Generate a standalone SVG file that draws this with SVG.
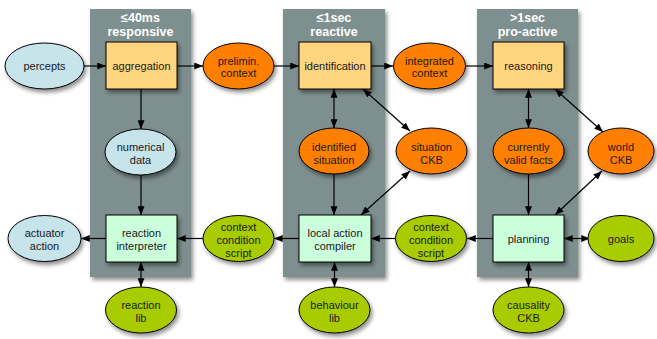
<svg xmlns="http://www.w3.org/2000/svg" width="657" height="339" viewBox="0 0 657 339">
  <defs>
    <filter id="shadow" x="-20%" y="-20%" width="150%" height="150%">
      <feGaussianBlur in="SourceAlpha" stdDeviation="2"/>
      <feOffset dx="1.5" dy="2.5" result="b"/>
      <feComponentTransfer><feFuncA type="linear" slope="0.45"/></feComponentTransfer>
      <feMerge><feMergeNode/><feMergeNode in="SourceGraphic"/></feMerge>
    </filter>
    <marker id="arr" viewBox="0 0 10 8" refX="10" refY="4" markerWidth="9" markerHeight="7" markerUnits="userSpaceOnUse" orient="auto-start-reverse">
      <path d="M0,0 L10,4 L0,8 Z" fill="#000"/>
    </marker>
  </defs>
  <style>
    .panel { fill: #7e8f8f; }
    .head { font-family: "Liberation Sans", Arial, sans-serif; font-size: 12.5px; font-weight: bold; fill: #fff; text-anchor: middle; }
    .lbl { font-family: "Liberation Sans", Arial, sans-serif; font-size: 11px; fill: #1a1a1a; text-anchor: middle; }
    .ell, .box { stroke: #000; stroke-width: 1; }
    .blue { fill: #c6e4ea; }
    .orange { fill: #ff8000; }
    .green { fill: #a8cc00; }
    .yellow { fill: #ffd580; }
    .mint { fill: #cbfedb; }
    .conn line { stroke: #000; stroke-width: 1.2; fill: none; }
    .one { marker-end: url(#arr); }
    .two { marker-start: url(#arr); marker-end: url(#arr); }
  </style>

  <!-- time-scale columns -->
  <g id="col-responsive">
    <rect class="panel" x="90" y="9" width="101" height="268" filter="url(#shadow)"/>
    <text class="head" x="140.5" y="22">≤40ms</text>
    <text class="head" x="140.5" y="36">responsive</text>
  </g>
  <g id="col-reactive">
    <rect class="panel" x="283" y="9" width="102" height="268" filter="url(#shadow)"/>
    <text class="head" x="334" y="22">≤1sec</text>
    <text class="head" x="334" y="36">reactive</text>
  </g>
  <g id="col-proactive">
    <rect class="panel" x="477" y="9" width="101" height="268" filter="url(#shadow)"/>
    <text class="head" x="527.5" y="22">&gt;1sec</text>
    <text class="head" x="527.5" y="36">pro-active</text>
  </g>

  <!-- connectors -->
  <g class="conn" id="connectors">
    <line class="one" x1="84" y1="66" x2="106" y2="66"/>
    <line class="one" x1="177" y1="66" x2="203" y2="66"/>
    <line class="one" x1="274" y1="66" x2="299" y2="66"/>
    <line class="one" x1="371" y1="66" x2="393" y2="66"/>
    <line class="one" x1="466" y1="66" x2="493" y2="66"/>
    <line class="one" x1="141" y1="89" x2="141" y2="129"/>
    <line class="one" x1="141" y1="175" x2="141" y2="215"/>
    <line class="two" x1="334" y1="89" x2="334" y2="128"/>
    <line class="two" x1="363" y1="89" x2="410" y2="131"/>
    <line class="one" x1="334" y1="174" x2="334" y2="215"/>
    <line class="two" x1="361" y1="215" x2="410" y2="171"/>
    <line class="two" x1="528.5" y1="89" x2="528.5" y2="128"/>
    <line class="two" x1="555" y1="89" x2="603" y2="132"/>
    <line class="one" x1="528.5" y1="174" x2="528.5" y2="215"/>
    <line class="two" x1="555" y1="215" x2="602" y2="171"/>
    <line class="two" x1="564" y1="238.5" x2="590" y2="238.5"/>
    <line class="one" x1="493" y1="238.5" x2="467" y2="238.5"/>
    <line class="one" x1="395" y1="238.5" x2="371" y2="238.5"/>
    <line class="one" x1="299" y1="238.5" x2="274" y2="238.5"/>
    <line class="one" x1="203" y1="238.5" x2="177" y2="238.5"/>
    <line class="one" x1="106" y1="238.5" x2="81" y2="238.5"/>
    <line class="two" x1="141" y1="262" x2="141" y2="287"/>
    <line class="two" x1="334.5" y1="262" x2="334.5" y2="287"/>
    <line class="two" x1="528.5" y1="262" x2="528.5" y2="287"/>
  </g>

  <!-- top row -->
  <g id="percepts">
    <ellipse class="ell blue" cx="44.5" cy="66" rx="39.5" ry="23" filter="url(#shadow)"/>
    <text class="lbl" x="44.5" y="70">percepts</text>
  </g>
  <g id="aggregation">
    <rect class="box yellow" x="106" y="42" width="71" height="47" filter="url(#shadow)"/>
    <text class="lbl" x="141.5" y="70">aggregation</text>
  </g>
  <g id="prelimin-context">
    <ellipse class="ell orange" cx="238.5" cy="66" rx="35.5" ry="23" filter="url(#shadow)"/>
    <text class="lbl" x="238.5" y="64.5">prelimin.</text>
    <text class="lbl" x="238.5" y="77">context</text>
  </g>
  <g id="identification">
    <rect class="box yellow" x="299" y="42" width="72" height="47" filter="url(#shadow)"/>
    <text class="lbl" x="335" y="70">identification</text>
  </g>
  <g id="integrated-context">
    <ellipse class="ell orange" cx="429.5" cy="66" rx="36" ry="23" filter="url(#shadow)"/>
    <text class="lbl" x="429.5" y="64.5">integrated</text>
    <text class="lbl" x="429.5" y="77">context</text>
  </g>
  <g id="reasoning">
    <rect class="box yellow" x="493" y="42" width="71" height="47" filter="url(#shadow)"/>
    <text class="lbl" x="528.5" y="70">reasoning</text>
  </g>

  <!-- middle row -->
  <g id="numerical-data">
    <ellipse class="ell blue" cx="140.5" cy="152" rx="35.5" ry="23" filter="url(#shadow)"/>
    <text class="lbl" x="140.5" y="150.5">numerical</text>
    <text class="lbl" x="140.5" y="164">data</text>
  </g>
  <g id="identified-situation">
    <ellipse class="ell orange" cx="334" cy="151" rx="35" ry="23" filter="url(#shadow)"/>
    <text class="lbl" x="334" y="150.5">identified</text>
    <text class="lbl" x="334" y="164">situation</text>
  </g>
  <g id="situation-ckb">
    <ellipse class="ell orange" cx="431.5" cy="151" rx="35.5" ry="23" filter="url(#shadow)"/>
    <text class="lbl" x="431.5" y="150.5">situation</text>
    <text class="lbl" x="431.5" y="164">CKB</text>
  </g>
  <g id="currently-valid-facts">
    <ellipse class="ell orange" cx="528.5" cy="151" rx="35.5" ry="23" filter="url(#shadow)"/>
    <text class="lbl" x="528.5" y="150.5">currently</text>
    <text class="lbl" x="528.5" y="164">valid facts</text>
  </g>
  <g id="world-ckb">
    <ellipse class="ell orange" cx="621" cy="151" rx="33" ry="23" filter="url(#shadow)"/>
    <text class="lbl" x="621" y="150.5">world</text>
    <text class="lbl" x="621" y="164">CKB</text>
  </g>

  <!-- bottom row -->
  <g id="actuator-action">
    <ellipse class="ell blue" cx="44.5" cy="238.5" rx="36.5" ry="23" filter="url(#shadow)"/>
    <text class="lbl" x="44.5" y="237">actuator</text>
    <text class="lbl" x="44.5" y="250">action</text>
  </g>
  <g id="reaction-interpreter">
    <rect class="box mint" x="106" y="215" width="71" height="47" filter="url(#shadow)"/>
    <text class="lbl" x="141.5" y="237">reaction</text>
    <text class="lbl" x="141.5" y="250">interpreter</text>
  </g>
  <g id="context-condition-script-1">
    <ellipse class="ell green" cx="238.5" cy="238.5" rx="35.5" ry="23" filter="url(#shadow)"/>
    <text class="lbl" x="238.5" y="230.5">context</text>
    <text class="lbl" x="238.5" y="243.5">condition</text>
    <text class="lbl" x="238.5" y="256.5">script</text>
  </g>
  <g id="local-action-compiler">
    <rect class="box mint" x="299" y="215" width="72" height="47" filter="url(#shadow)"/>
    <text class="lbl" x="335" y="237">local action</text>
    <text class="lbl" x="335" y="250">compiler</text>
  </g>
  <g id="context-condition-script-2">
    <ellipse class="ell green" cx="431" cy="238.5" rx="35.5" ry="23" filter="url(#shadow)"/>
    <text class="lbl" x="431" y="230.5">context</text>
    <text class="lbl" x="431" y="243.5">condition</text>
    <text class="lbl" x="431" y="256.5">script</text>
  </g>
  <g id="planning">
    <rect class="box mint" x="493" y="215" width="71" height="47" filter="url(#shadow)"/>
    <text class="lbl" x="528.5" y="243">planning</text>
  </g>
  <g id="goals">
    <ellipse class="ell green" cx="621" cy="238.5" rx="33" ry="23" filter="url(#shadow)"/>
    <text class="lbl" x="621" y="243">goals</text>
  </g>
  <g id="reaction-lib">
    <ellipse class="ell green" cx="141" cy="310" rx="35.5" ry="23" filter="url(#shadow)"/>
    <text class="lbl" x="141" y="308.5">reaction</text>
    <text class="lbl" x="141" y="322">lib</text>
  </g>
  <g id="behaviour-lib">
    <ellipse class="ell green" cx="334.5" cy="310" rx="35.5" ry="23" filter="url(#shadow)"/>
    <text class="lbl" x="334.5" y="308.5">behaviour</text>
    <text class="lbl" x="334.5" y="322">lib</text>
  </g>
  <g id="causality-ckb">
    <ellipse class="ell green" cx="528.5" cy="310" rx="35.5" ry="23" filter="url(#shadow)"/>
    <text class="lbl" x="528.5" y="308.5">causality</text>
    <text class="lbl" x="528.5" y="322">CKB</text>
  </g>
</svg>
